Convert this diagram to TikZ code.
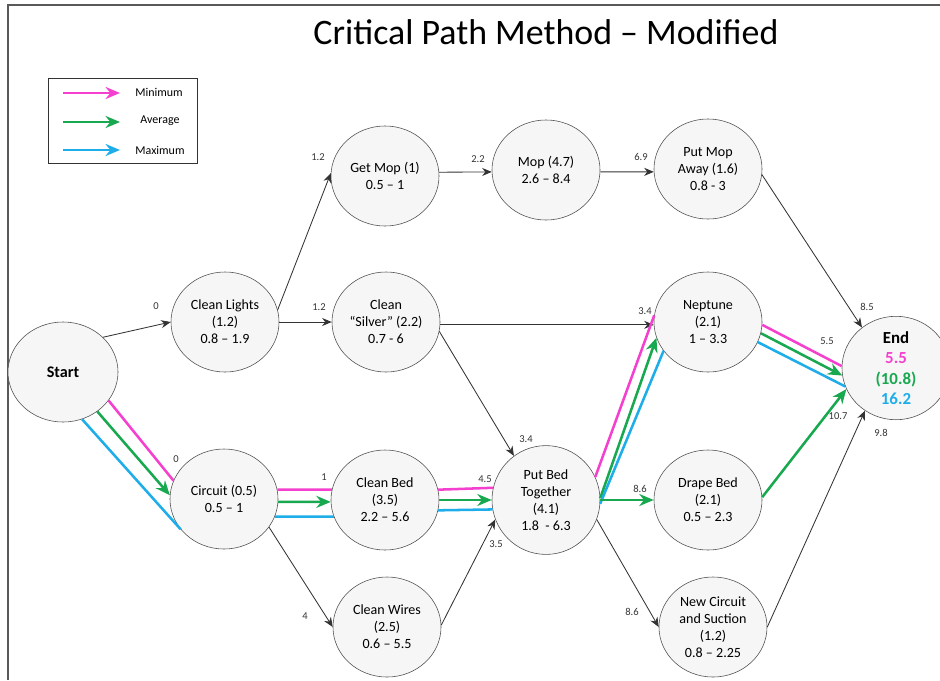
\documentclass[tikz,border=0pt]{standalone}
\usepackage{fontspec}
\setmainfont{Carlito}
\usetikzlibrary{calc,positioning,arrows.meta,shapes.geometric}
\definecolor{minPink}{HTML}{F53FCF}
\definecolor{avgGreen}{HTML}{18A84F}
\definecolor{maxBlue}{HTML}{1DAEEA}

\begin{document}
\begin{tikzpicture}[x=0.025cm, y=-0.025cm,
  task/.style={draw=black!70, fill=gray!7, ellipse, minimum width=2.7cm, minimum height=2.5cm, inner sep=0pt, align=center, font=\fontsize{10}{12.2}\selectfont},
  edge/.style={draw=black!80, line width=0.6pt, -{Stealth[length=2.4mm,width=2mm]}},
  num/.style={font=\fontsize{7.5}{8}\selectfont, text=black!80, inner sep=1pt},
  tip/.style={-{Stealth[length=3.6mm,width=3mm]}},
  minLine/.style={draw=minPink, line width=1.8pt},
  avgLine/.style={draw=avgGreen, line width=1.8pt, tip},
  maxLine/.style={draw=maxBlue, line width=1.8pt}]
\useasboundingbox (0,0) rectangle (940,680);
\draw[black!65, line width=1.5pt] (8,680) -- (8,5) -- (940,5);

\node (title) at (546,32) {\fontsize{25.5}{30}\selectfont Critical Path Method – Modified};

% legend
\node (legend) [draw=black!80, line width=0.8pt, minimum width=3.72cm, minimum height=2.12cm] at (123,121) {};
\draw[minLine, tip] (63,93) -- (120,93);
\draw[avgLine] (63,122) -- (120,122);
\draw[maxLine, tip] (63,150) -- (120,150);
\node (minText) [font=\fontsize{8.5}{9}\selectfont] at (159,92) {Minimum};
\node (avgText) [font=\fontsize{8.5}{9}\selectfont] at (160,121) {Average};
\node (maxText) [font=\fontsize{8.5}{9}\selectfont] at (160,150) {Maximum};

% activities
\node (start) [task, minimum width=2.75cm] at (63,372) {\fontsize{11.5}{13}\selectfont\textbf{Start}};
\node (cleanLights) [task] at (225,322) {Clean Lights\\(1.2)\\0.8 – 1.9};
\node (circuit) [task] at (224,499) {Circuit (0.5)\\0.5 – 1};
\node (getMop) [task] at (385,176) {Get Mop (1)\\0.5 – 1};
\node (cleanSilver) [task] at (386,322) {Clean\\“Silver” (2.2)\\0.7 - 6};
\node (cleanBed) [task] at (385,500) {Clean Bed\\(3.5)\\2.2 – 5.6};
\node (cleanWires) [task] at (387,627) {Clean Wires\\(2.5)\\0.6 – 5.5};
\node (mop) [task] at (546,170) {Mop (4.7)\\2.6 – 8.4};
\node (putBed) [task, minimum height=2.72cm] at (546,500) {Put Bed\\Together\\(4.1)\\1.8 \ - 6.3};
\node (putMopAway) [task] at (708,169) {Put Mop\\Away (1.6)\\0.8 - 3};
\node (neptune) [task] at (708,322) {Neptune\\(2.1)\\1 – 3.3};
\node (drapeBed) [task] at (708,500) {Drape Bed\\(2.1)\\0.5 – 2.3};
\node (newCircuit) [task] at (713,627) {New Circuit\\and Suction\\(1.2)\\0.8 – 2.25};
\node (taskEnd) [task, minimum width=2.7cm, minimum height=2.5cm, font=\fontsize{12}{14.5}\selectfont] at (896,368)
  {\textbf{End}\\\textbf{\textcolor{minPink}{5.5}}\\\textbf{\textcolor{avgGreen}{(10.8)}}\\\textbf{\textcolor{maxBlue}{16.2}}};

% plain dependencies
\draw[edge] (start.41) -- (cleanLights.180);
\draw[edge] (cleanLights.13) -- (getMop.177);
\draw[edge] (cleanLights.east) -- (cleanSilver.west);
\draw[edge] (getMop.4) -- (mop.182);
\draw[edge] (mop.-2) -- (putMopAway.183);
\draw[edge] (putMopAway.-6) -- (taskEnd.130);
\draw[edge] (cleanSilver.-3) -- (neptune.183);
\draw[edge] (cleanSilver.-10) -- (putBed.126);
\draw[edge] (circuit.-32) -- (cleanWires.180);
\draw[edge] (cleanWires.2) -- (putBed.201);
\draw[edge] (putBed.-21) -- (newCircuit.180);
\draw[edge] (newCircuit.0) -- (taskEnd.234);

% critical path: min / avg / max
\foreach \a/\b/\pa/\pb/\ga/\gb/\ba/\bb in {
    start/circuit/-32/160/-49/176/-68/215,
    circuit/cleanBed/10/169/-3/182/-19/198,
    cleanBed/putBed/11/167/0/180/-11/190,
    putBed/neptune/25/173/2/197/-4/213,
    neptune/taskEnd/-3/178/-12/188/-22/200}{
  \draw[minLine] (\a.\pa) -- (\b.\pb);
  \draw[avgLine] (\a.\ga) -- (\b.\gb);
  \draw[maxLine] (\a.\ba) -- (\b.\bb);
}
\draw[avgLine] (putBed.0) -- (drapeBed.180);
\draw[avgLine] (drapeBed.3) -- (taskEnd.203);

% start times
\node (n1) [num] at (156,306) {0};
\node (n2) [num] at (176,459) {0};
\node (n3) [num] at (318,157) {1.2};
\node (n4) [num] at (319,307) {1.2};
\node (n5) [num] at (478,159) {2.2};
\node (n6) [num] at (641,157) {6.9};
\node (n7) [num] at (867,307) {8.5};
\node (n8) [num] at (645,311) {3.4};
\node (n9) [num] at (526,439) {3.4};
\node (n10) [num] at (324,477) {1};
\node (n11) [num] at (485,479) {4.5};
\node (n12) [num] at (496,544) {3.5};
\node (n13) [num] at (305,616) {4};
\node (n14) [num] at (640,489) {8.6};
\node (n15) [num] at (632,612) {8.6};
\node (n16) [num] at (827,341) {5.5};
\node (n17) [num] at (838,416) {10.7};
\node (n18) [num] at (881,433) {9.8};
\end{tikzpicture}
\end{document}
